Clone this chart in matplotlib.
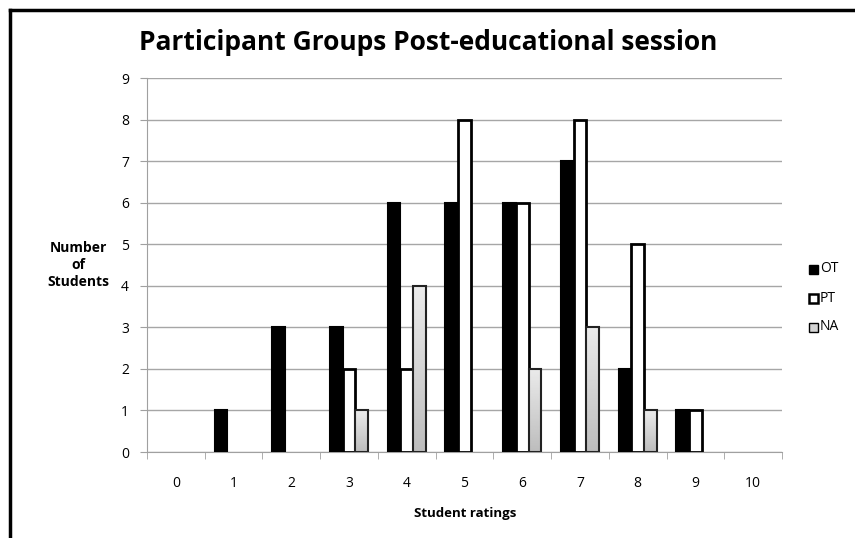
import matplotlib
matplotlib.use("Agg")
import matplotlib.pyplot as plt
import numpy as np
from matplotlib.lines import Line2D
from matplotlib.patches import Rectangle

ratings = [0, 1, 2, 3, 4, 5, 6, 7, 8, 9, 10]
ot = [0, 1, 3, 3, 6, 6, 6, 7, 2, 1, 0]
pt = [0, 0, 0, 2, 2, 8, 6, 8, 5, 1, 0]
na = [0, 0, 0, 1, 4, 0, 2, 3, 1, 0, 0]
series_names = ["OT", "PT", "NA"]

plt.rcParams['font.family'] = ['Open Sans', 'DejaVu Sans']

fig = plt.figure(figsize=(8.55, 5.38), dpi=100)
ax = fig.add_axes([147/855, 1-452/538, (782-147)/855, (452-78)/538])

x = np.arange(len(ratings))
w = 0.22

def lw(vals, width):
    return [width if v > 0 else 0 for v in vals]

ax.bar(x - w, ot, width=w, color='black', edgecolor='black', linewidth=lw(ot, 1.5), zorder=3)
ax.bar(x, pt, width=w, color='white', edgecolor='black', linewidth=lw(pt, 2), zorder=3)
nab = ax.bar(x + w, na, width=w, color='#d4d4d4', edgecolor='black', linewidth=0, zorder=3)

grad = np.linspace(0.92, 0.74, 100).reshape(-1, 1)
for b in nab:
    h = b.get_height()
    if h <= 0:
        b.set_visible(False)
        continue
    x0 = b.get_x()
    im = ax.imshow(grad, cmap='gray', vmin=0, vmax=1, aspect='auto',
                   extent=[x0, x0 + b.get_width(), 0, h], zorder=3.5,
                   interpolation='bilinear')
    im.set_clip_path(b)
    ax.add_patch(Rectangle((x0, 0), b.get_width(), h, fill=False,
                           edgecolor='#222222', linewidth=1.5, zorder=4))

ax.set_xlim(-0.5, len(ratings) - 0.5)
ax.set_ylim(0, 9)
ax.set_yticks(range(0, 10))
ax.set_xticks(x)
ax.set_xticklabels([str(r) for r in ratings])
ax.set_xticks(np.arange(-0.5, len(ratings)), minor=True)
ax.tick_params(axis='x', which='major', length=0, pad=17, labelsize=10)
ax.tick_params(axis='x', which='minor', length=5, color='#a0a0a0', direction='out')
ax.tick_params(axis='y', length=5, color='#a0a0a0', labelsize=10, pad=8)
ax.grid(axis='y', color='#a6a6a6', linewidth=1, zorder=0)
ax.set_axisbelow(True)
for s in ['top', 'right']:
    ax.spines[s].set_visible(False)
for s in ['left', 'bottom']:
    ax.spines[s].set_color('#a0a0a0')
ax.yaxis.set_tick_params(which='both', direction='out')

fig.text(428/855, 1-43/538, "Participant Groups Post-educational session",
         ha='center', va='center', fontsize=19, fontweight='bold')
fig.text(78/855, 1-265/538, "Number\nof\nStudents", ha='center', va='center',
         fontsize=10, fontweight='bold', linespacing=1.3)
fig.text(465/855, 1-513/538, "Student ratings", ha='center', va='center',
         fontsize=9.5, fontweight='bold')

# legend
leg_y = [269, 298, 327]
faces = ['black', 'white', '#d4d4d4']
for name, fc, yy in zip(series_names, faces, leg_y):
    fig.patches.append(Rectangle((809/855, 1-(yy+4.5)/538), 9/855, 9/538,
                                 transform=fig.transFigure, facecolor=fc,
                                 edgecolor='black', linewidth=1.8 if fc == 'white' else 1))
    fig.text(820/855, 1-yy/538, name, ha='left', va='center', fontsize=10)

# outer frame
fig.add_artist(Line2D([10/855, 10/855], [0, 1-10/538], color='black', linewidth=2.5,
                      transform=fig.transFigure))
fig.add_artist(Line2D([10/855, 1], [1-10/538, 1-10/538], color='black', linewidth=2.5,
                      transform=fig.transFigure))

fig.savefig("out.png", dpi=100)
